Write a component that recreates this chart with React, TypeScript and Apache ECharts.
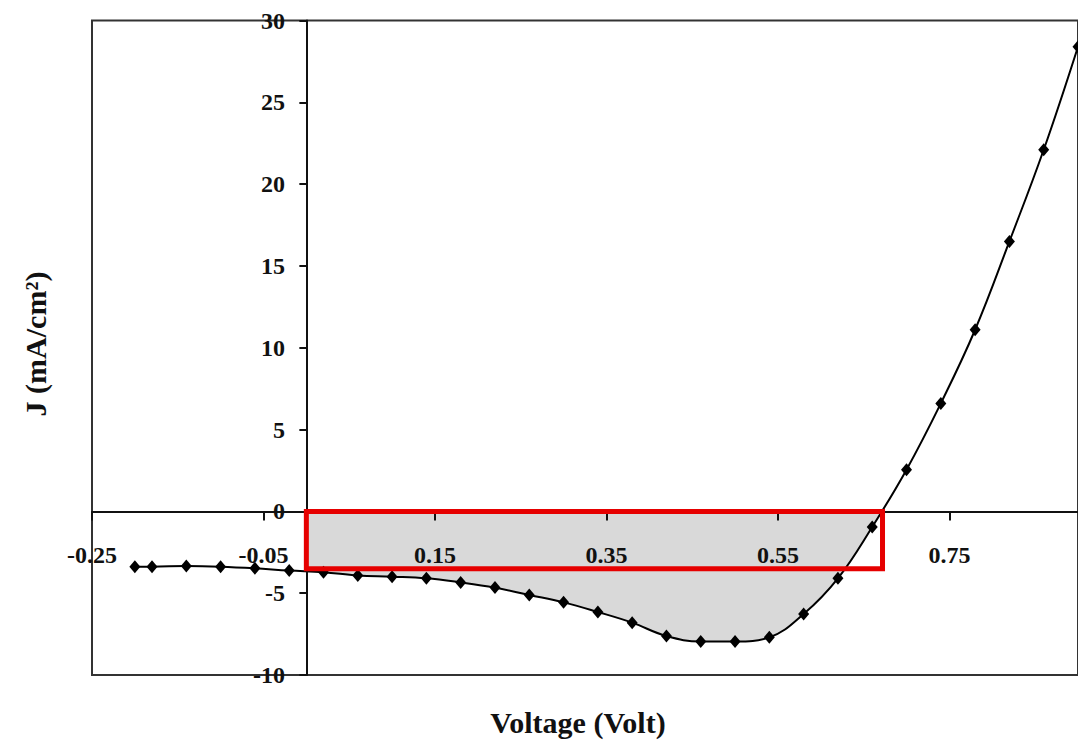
import React, { useEffect, useRef } from "react";
import * as echarts from "echarts";

// Bias voltage (V) and current density J (mA/cm²) of the measured cell
const voltage = [
  -0.2, -0.18, -0.14, -0.1, -0.06, -0.02, 0.02, 0.06, 0.1, 0.14, 0.18, 0.22,
  0.26, 0.3, 0.34, 0.38, 0.42, 0.46, 0.5, 0.54, 0.58, 0.62, 0.66, 0.7, 0.74,
  0.78, 0.82, 0.86, 0.9,
];
const currentDensity = [
  -3.38, -3.38, -3.34, -3.38, -3.48, -3.62, -3.72, -3.92, -3.99, -4.09, -4.34,
  -4.66, -5.11, -5.56, -6.15, -6.8, -7.62, -7.96, -7.96, -7.7, -6.27, -4.09,
  -0.95, 2.55, 6.6, 11.1, 16.5, 22.1, 28.4,
];

// Tick positions on the voltage axis
const voltageTicks = [-0.25, -0.05, 0.15, 0.35, 0.55, 0.75];

// Short-circuit current density and open-circuit voltage (red rectangle)
const jsc = -3.5;
const voc = 0.672;

const FONT = '"Liberation Serif", "Times New Roman", serif';

export default function App() {
  const ref = useRef<HTMLDivElement>(null);

  useEffect(() => {
    if (!ref.current) return;
    const chart = echarts.init(ref.current, undefined, { renderer: "svg" });
    const points = voltage.map((v, i) => [v, currentDensity[i]]);

    chart.setOption({
      animation: false,
      backgroundColor: "#ffffff",
      grid: {
        left: 92,
        top: 20.5,
        bottom: 67,
        right: -7.5,
        show: true,
        borderColor: "#333333",
        borderWidth: 2,
        backgroundColor: "transparent",
      },
      xAxis: {
        type: "value",
        min: -0.25,
        max: 0.9,
        z: 6,
        axisLine: { onZero: true, lineStyle: { color: "#111111", width: 2 } },
        axisTick: {
          show: true,
          customValues: voltageTicks,
          length: 9,
          lineStyle: { color: "#111111", width: 2 },
        },
        axisLabel: {
          customValues: voltageTicks,
          formatter: (v: number) => v.toFixed(2),
          fontFamily: FONT,
          fontWeight: "bold",
          fontSize: 24,
          color: "#111111",
          // labels sit just under the J = 0 line
          margin: -132,
        },
        splitLine: { show: false },
      },
      yAxis: {
        type: "value",
        min: -10,
        max: 30,
        interval: 5,
        z: 6,
        axisLine: { onZero: true, lineStyle: { color: "#111111", width: 2 } },
        axisTick: { show: true, length: 7, lineStyle: { color: "#111111", width: 2 } },
        axisLabel: {
          fontFamily: FONT,
          fontWeight: "bold",
          fontSize: 24,
          color: "#111111",
          // labels sit just left of the V = 0 line
          margin: -193,
        },
        splitLine: { show: false },
      },
      visualMap: {
        show: false,
        type: "piecewise",
        seriesIndex: 0,
        dimension: 0,
        pieces: [
          { lt: 0, color: "rgba(217,217,217,0)" },
          { gte: 0, lte: voc, color: "#d9d9d9" },
          { gt: voc, color: "rgba(217,217,217,0)" },
        ],
      },
      graphic: [
        {
          type: "text",
          x: 578,
          y: 722,
          style: {
            text: "Voltage (Volt)",
            font: `bold 30px ${FONT}`,
            fill: "#111111",
            textAlign: "center",
            textVerticalAlign: "middle",
          },
        },
        {
          type: "text",
          x: 35,
          y: 344,
          rotation: Math.PI / 2,
          style: {
            text: "J (mA/cm²)",
            font: `bold 30px ${FONT}`,
            fill: "#111111",
            textAlign: "center",
            textVerticalAlign: "middle",
          },
        },
      ],
      series: [
        {
          // shaded power region between J = 0 and the curve
          type: "line",
          data: points,
          smooth: 0.4,
          symbol: "none",
          lineStyle: { width: 0, opacity: 0 },
          areaStyle: { opacity: 1 },
          silent: true,
          z: 1,
        },
        {
          type: "line",
          data: points,
          smooth: 0.4,
          symbol: "diamond",
          symbolSize: [11, 13],
          itemStyle: { color: "#000000" },
          lineStyle: { color: "#000000", width: 2 },
          z: 3,
        },
        {
          type: "line",
          data: [],
          z: 8,
          markArea: {
            silent: true,
            z: 10,
            itemStyle: {
              color: "rgba(0,0,0,0)",
              borderColor: "#e60000",
              borderWidth: 5,
            },
            data: [[{ coord: [0, 0] }, { coord: [voc, jsc] }]],
          },
        },
      ],
    });

    return () => chart.dispose();
  }, []);

  return (
    <div
      ref={ref}
      style={{ position: "absolute", left: 0, top: 0, width: 1078, height: 742 }}
    />
  );
}
